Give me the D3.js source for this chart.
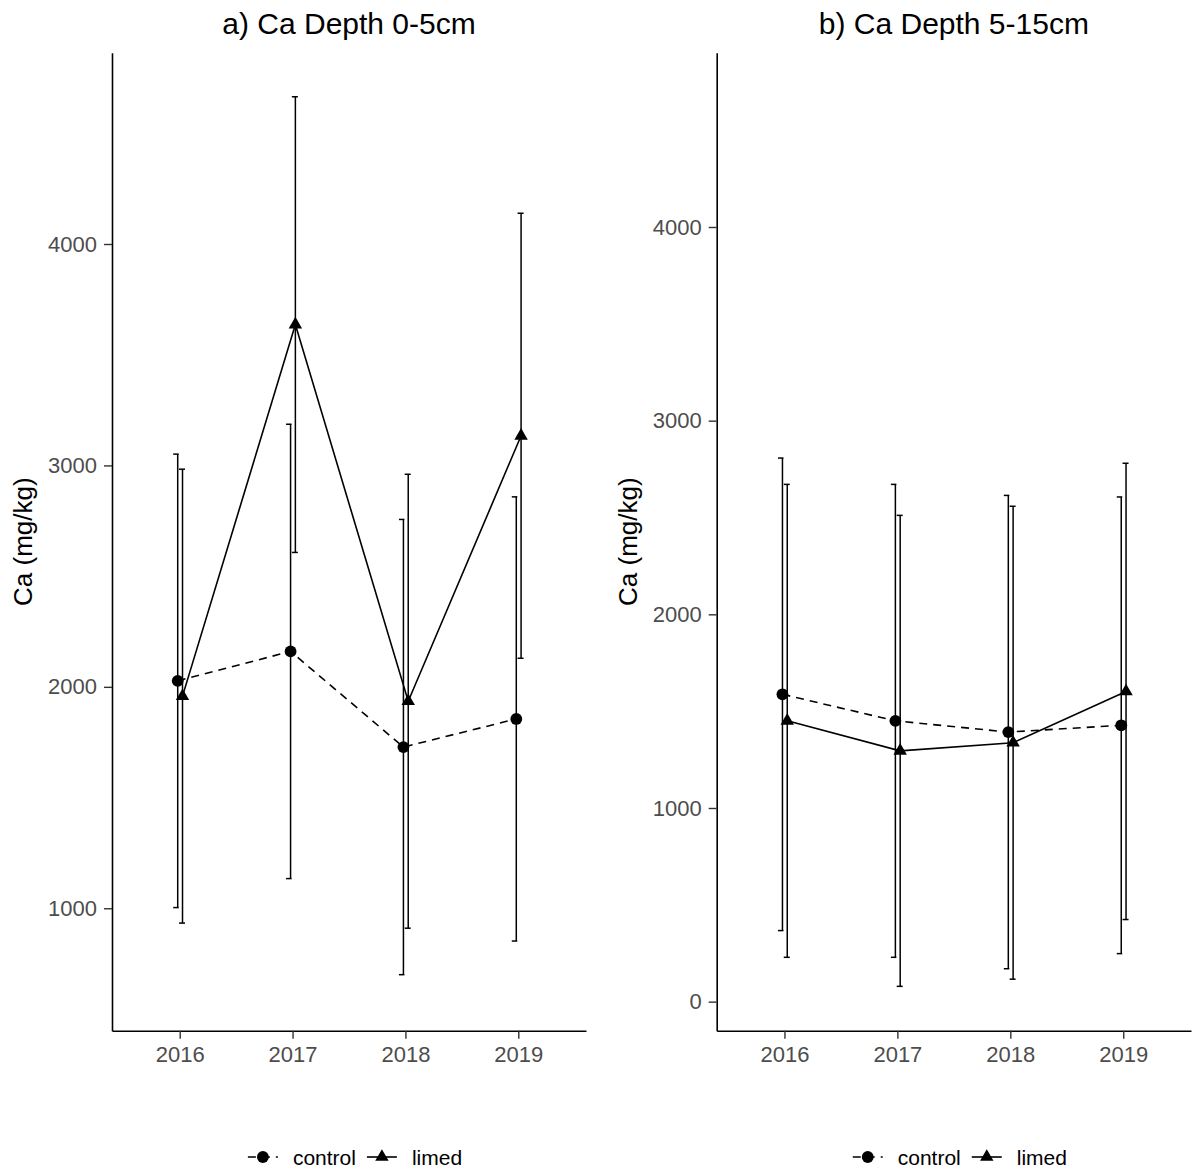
<!DOCTYPE html>
<html>
<head>
<meta charset="utf-8">
<script src="https://cdn.jsdelivr.net/npm/d3@7"></script>
<style>
  html, body { margin: 0; padding: 0; background: #fff; }
  svg { display: block; font-family: "Liberation Sans", Arial, sans-serif; }
</style>
</head>
<body>
<svg id="chart" width="1194" height="1175"></svg>
<script>
// Sampling years
const years = ["2016", "2017", "2018", "2019"];
const groups = ["control", "limed"];

// Depth 0-5 cm: mean Ca and error half-width (mg/kg)
const controlMean05 = [2027, 2160, 1728, 1855];
const controlErr05  = [1024, 1026, 1028, 1003];
const limedMean05   = [1958, 3636, 1935, 3134];
const limedErr05    = [1025, 1029, 1025, 1005];

// Depth 5-15 cm: mean Ca and error half-width (mg/kg)
const controlMean515 = [1587, 1450, 1392, 1427];
const controlErr515  = [1220, 1221, 1222, 1179];
const limedMean515   = [1450, 1295, 1337, 1602];
const limedErr515    = [1221, 1216, 1221, 1178];

// Y tick labels for each panel
const yTicks05  = [1000, 2000, 3000, 4000];
const yTicks515 = [0, 1000, 2000, 3000, 4000];

const panelTitles = ["a) Ca Depth 0-5cm", "b) Ca Depth 5-15cm"];
const yTitle = "Ca (mg/kg)";

const svg = d3.select("#chart");
const plotTop = 52.7, plotBottom = 1030.7;

const panels = [
  { title: panelTitles[0], left: 112, right: 586, ydom: [447, 4864], ticks: yTicks05,
    series: [
      { name: groups[0], mean: controlMean05, err: controlErr05 },
      { name: groups[1], mean: limedMean05, err: limedErr05 } ] },
  { title: panelTitles[1], left: 716.7, right: 1191, ydom: [-150, 4900], ticks: yTicks515,
    series: [
      { name: groups[0], mean: controlMean515, err: controlErr515 },
      { name: groups[1], mean: limedMean515, err: limedErr515 } ] }
];

// per-group styling: horizontal dodge, cap extent, dash, marker
const style = {
  control: { dx: -2, cap: [-4.5, 1], dash: "8,6", symbol: d3.symbolCircle, size: 110 },
  limed:   { dx: 2.8, cap: [-3.5, 2.5], dash: null, symbol: d3.symbolTriangle, size: 78 }
};

panels.forEach(p => {
  const x = d3.scalePoint().domain(years).range([p.left, p.right]).padding(0.6);
  const y = d3.scaleLinear().domain(p.ydom).range([plotBottom, plotTop]);
  const g = svg.append("g");

  // axes
  const ya = g.append("g").attr("transform", `translate(${p.left},0)`)
    .call(d3.axisLeft(y).tickValues(p.ticks).tickFormat(d3.format("d"))
      .tickSize(8).tickSizeOuter(0).tickPadding(7));
  const xa = g.append("g").attr("transform", `translate(0,${plotBottom})`)
    .call(d3.axisBottom(x).tickSize(8).tickSizeOuter(0).tickPadding(8));
  [ya, xa].forEach(a => {
    a.select(".domain").attr("stroke", "#000").attr("stroke-width", 1.6);
    a.selectAll(".tick line").attr("stroke", "#333").attr("stroke-width", 1.4);
    a.selectAll(".tick text").attr("fill", "#4d4d4d").style("font-size", "22px")
      .style("font-family", "'Liberation Sans', Arial, sans-serif");
  });

  // panel title
  g.append("text").attr("x", (p.left + p.right) / 2).attr("y", 34)
    .attr("text-anchor", "middle").style("font-size", "30px").attr("fill", "#000")
    .text(p.title);

  // y axis title
  g.append("text")
    .attr("transform", `translate(${p.left - 80},${(plotTop + plotBottom) / 2}) rotate(-90)`)
    .attr("text-anchor", "middle").style("font-size", "26px").attr("fill", "#000")
    .text(yTitle);

  p.series.forEach(s => {
    const st = style[s.name];
    const pts = years.map((yr, i) => ({ x: x(yr) + st.dx, m: s.mean[i], e: s.err[i] }));

    // error bars
    const eb = g.append("g").attr("stroke", "#000").attr("stroke-width", 1.5).attr("fill", "none");
    pts.forEach(d => {
      eb.append("line").attr("x1", d.x).attr("x2", d.x)
        .attr("y1", y(d.m - d.e)).attr("y2", y(d.m + d.e));
      [d.m - d.e, d.m + d.e].forEach(v => {
        eb.append("line").attr("x1", d.x + st.cap[0]).attr("x2", d.x + st.cap[1])
          .attr("y1", y(v)).attr("y2", y(v));
      });
    });

    // connecting line
    g.append("path").datum(pts)
      .attr("d", d3.line().x(d => d.x).y(d => y(d.m)))
      .attr("fill", "none").attr("stroke", "#000").attr("stroke-width", 1.6)
      .attr("stroke-dasharray", st.dash);

    // markers
    g.selectAll(null).data(pts).enter().append("path")
      .attr("transform", d => `translate(${d.x},${y(d.m)})`)
      .attr("d", d3.symbol().type(st.symbol).size(st.size))
      .attr("fill", "#000");
  });

  // legend
  const lg = g.append("g");
  let cx = 0;
  groups.forEach((name, i) => {
    const st = style[name];
    const item = lg.append("g").attr("transform", `translate(${cx},0)`);
    item.append("line").attr("x1", 0).attr("x2", 30).attr("y1", 0).attr("y2", 0)
      .attr("stroke", "#000").attr("stroke-width", 1.6).attr("stroke-dasharray", st.dash);
    item.append("path").attr("transform", "translate(15,0)")
      .attr("d", d3.symbol().type(st.symbol).size(st.size)).attr("fill", "#000");
    const t = item.append("text").attr("x", 45).attr("y", 8)
      .style("font-size", "21px").attr("fill", "#000").text(name);
    cx += 45 + t.node().getComputedTextLength() + 11;
  });
  const lw = cx - 11;
  lg.attr("transform", `translate(${(p.left + p.right) / 2 + 6 - lw / 2},1157)`);
});
</script>
</body>
</html>
